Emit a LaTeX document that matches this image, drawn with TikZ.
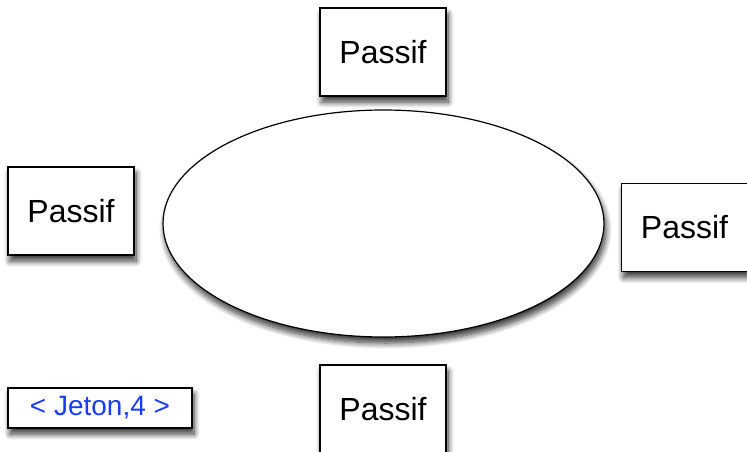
\documentclass[tikz,border=0pt]{standalone}
\usepackage{fontspec}
\setmainfont{Liberation Sans}
\usetikzlibrary{shapes.geometric,shadows.blur}
\definecolor{jetonblue}{RGB}{25,60,250}
\tikzset{
  shad/.style={blur shadow={shadow xshift=2pt,shadow yshift=-6pt,shadow blur steps=10,shadow blur radius=6pt,shadow opacity=80}},
  passive/.style={draw=black,line width=1.2pt,fill=white,rectangle,minimum width=126pt,minimum height=88pt,inner sep=0pt,shad,font=\fontsize{32}{38}\selectfont},
  ring/.style={draw=black,line width=1.2pt,fill=white,ellipse,minimum width=441pt,minimum height=227pt,inner sep=0pt,shad},
  token/.style={draw=black,line width=1.2pt,fill=white,rectangle,minimum width=184pt,minimum height=40pt,inner sep=0pt,shad,text=jetonblue,font=\fontsize{28}{32}\selectfont}
}
\begin{document}
\begin{tikzpicture}[x=1pt,y=-1pt]
\useasboundingbox (0,0) rectangle (747,452);
\node[ring] (ring) at (383.5,223.5) {};
\node[passive] (top) at (383,52) {Passif};
\node[passive] (left) at (71,211) {Passif};
\node[passive] (right) at (684.5,227.5) {Passif};
\node[passive] (bottom) at (383,409) {Passif};
\node[token] (jeton) at (100,408) {< Jeton,4 >};
\end{tikzpicture}
\end{document}
